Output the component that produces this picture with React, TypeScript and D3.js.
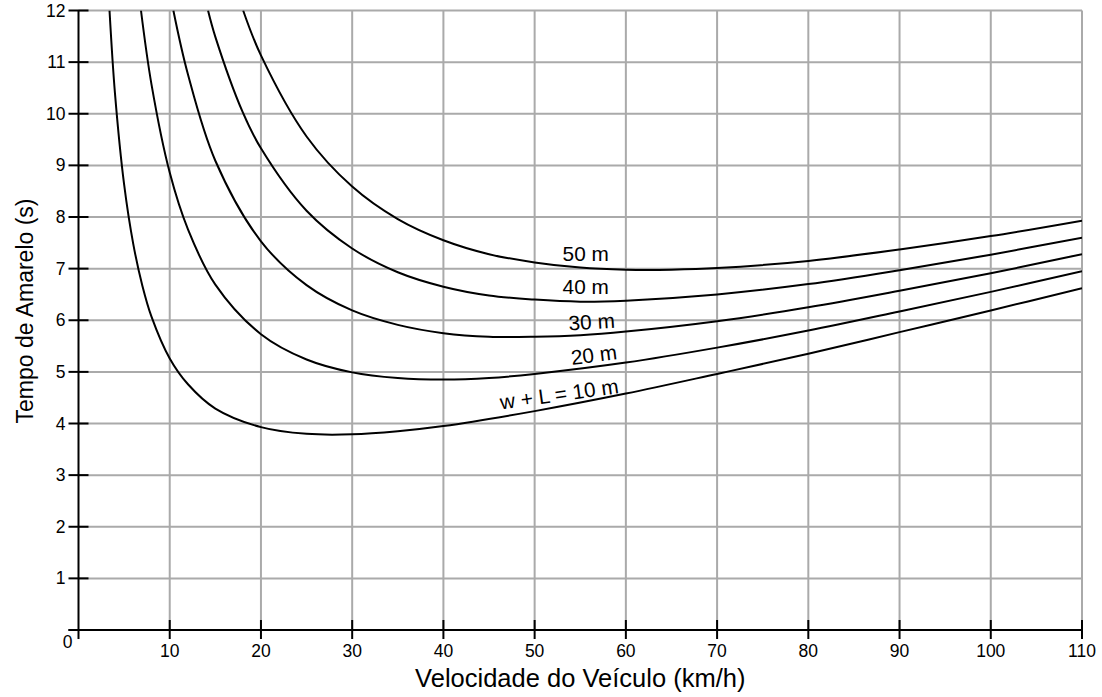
import React from "react";
import * as d3 from "d3";

// Speed (km/h) and yellow interval (s) for each clearance distance w + L
const speeds10 = [3.4, 4, 5, 6, 7, 8, 10, 12, 15, 20, 25, 30, 35, 40, 50, 60, 70, 80, 90, 100, 110];
const times10 = [12.0, 10.39, 8.63, 7.48, 6.67, 6.07, 5.26, 4.76, 4.29, 3.93, 3.8, 3.79, 3.85, 3.95, 4.24, 4.58, 4.96, 5.35, 5.77, 6.19, 6.62];

const speeds20 = [6.85, 8, 10, 12, 15, 20, 25, 30, 35, 40, 45, 50, 60, 70, 80, 90, 100, 110];
const times20 = [12.0, 10.57, 8.86, 7.76, 6.69, 5.73, 5.24, 4.99, 4.88, 4.85, 4.88, 4.96, 5.18, 5.47, 5.8, 6.17, 6.55, 6.95];

const speeds30 = [10.4, 12, 15, 20, 25, 30, 35, 40, 45, 50, 55, 60, 70, 80, 90, 100, 110];
const times30 = [12.0, 10.76, 9.09, 7.53, 6.68, 6.19, 5.91, 5.75, 5.68, 5.68, 5.71, 5.78, 5.98, 6.25, 6.57, 6.91, 7.28];

const speeds40 = [14.2, 15, 18, 20, 25, 30, 35, 40, 45, 50, 55, 60, 70, 80, 90, 100, 110];
const times40 = [12.0, 11.49, 10.03, 9.33, 8.12, 7.39, 6.93, 6.65, 6.48, 6.4, 6.36, 6.38, 6.5, 6.7, 6.97, 7.27, 7.6];

const speeds50 = [18.05, 20, 25, 30, 35, 40, 45, 50, 55, 60, 65, 70, 80, 90, 100, 110];
const times50 = [12.0, 11.13, 9.56, 8.59, 7.96, 7.55, 7.28, 7.12, 7.02, 6.98, 6.98, 7.01, 7.15, 7.37, 7.63, 7.93];

const xTicks = [10, 20, 30, 40, 50, 60, 70, 80, 90, 100, 110];
const yTicks = [1, 2, 3, 4, 5, 6, 7, 8, 9, 10, 11, 12];

const curveLabels = ["w + L = 10 m", "20 m", "30 m", "40 m", "50 m"];

const W = 1102;
const H = 697;
const FONT = "'Liberation Sans', Arial, Helvetica, sans-serif";

export default function App() {
  const x = d3.scaleLinear().domain([0, 110]).range([78.5, 1082]);
  const y = d3.scaleLinear().domain([0, 12]).range([630, 10.5]);

  const series = [
    { sp: speeds10, tm: times10 },
    { sp: speeds20, tm: times20 },
    { sp: speeds30, tm: times30 },
    { sp: speeds40, tm: times40 },
    { sp: speeds50, tm: times50 },
  ];

  const line = d3
    .line<[number, number]>()
    .x((d) => x(d[0]))
    .y((d) => y(d[1]))
    .curve(d3.curveCatmullRom.alpha(0.5));

  // label anchor (data units) and rotation for each curve
  const labelPlacement = [
    { vx: 52.8, vy: 4.43, rot: -8 },
    { vx: 56.6, vy: 5.19, rot: -7 },
    { vx: 56.3, vy: 5.83, rot: -3.5 },
    { vx: 55.6, vy: 6.51, rot: 0 },
    { vx: 55.6, vy: 7.14, rot: 0 },
  ];

  const x0 = x(0);
  const y0 = y(0);

  return (
    <svg
      width={W}
      height={H}
      style={{ position: "absolute", left: 0, top: 0, background: "#fff" }}
      fontFamily={FONT}
    >
      <defs>
        <clipPath id="plot-clip">
          <rect x={x0} y={y(12)} width={x(110) - x0} height={y0 - y(12)} />
        </clipPath>
      </defs>

      {/* grid */}
      <g stroke="#aaaaaa" strokeWidth={2}>
        {xTicks.map((t) => (
          <line key={"gx" + t} x1={x(t)} x2={x(t)} y1={y(12)} y2={y0} />
        ))}
        {yTicks.map((t) => (
          <line key={"gy" + t} x1={x0} x2={x(110)} y1={y(t)} y2={y(t)} />
        ))}
      </g>

      {/* curves */}
      <g clipPath="url(#plot-clip)" fill="none" stroke="#000" strokeWidth={2}>
        {series.map((s, i) => (
          <path key={i} d={line(s.sp.map((v, j) => [v, s.tm[j]] as [number, number])) || ""} />
        ))}
      </g>

      {/* axes */}
      <g stroke="#000" strokeWidth={2}>
        <line x1={x0} x2={x0} y1={y(12)} y2={y0 + 9} />
        <line x1={x0 - 10} x2={x(110)} y1={y0} y2={y0} />
        {[0, ...yTicks].map((t) => (
          <line key={"ty" + t} x1={x0 - 10} x2={x0 + 10} y1={y(t)} y2={y(t)} />
        ))}
        {xTicks.map((t) => (
          <line key={"tx" + t} x1={x(t)} x2={x(t)} y1={y0 - 10} y2={y0 + 9} />
        ))}
      </g>

      {/* tick labels */}
      <g fontSize={17.5} fill="#000">
        {yTicks.map((t) => (
          <text key={"ly" + t} x={x0 - 13} y={y(t)} textAnchor="end" dominantBaseline="central">
            {t}
          </text>
        ))}
        <text x={x0 - 11} y={y0 + 12} textAnchor="middle" dominantBaseline="central">
          0
        </text>
        {xTicks.map((t) => (
          <text key={"lx" + t} x={x(t)} y={y0 + 27} textAnchor="middle">
            {t}
          </text>
        ))}
      </g>

      {/* curve labels */}
      <g fontSize={20.8} fill="#000">
        {curveLabels.map((lab, i) => {
          const p = labelPlacement[i];
          const px = x(p.vx);
          const py = y(p.vy);
          return (
            <text
              key={lab}
              x={px}
              y={py}
              textAnchor="middle"
              transform={`rotate(${p.rot} ${px} ${py})`}
            >
              {lab}
            </text>
          );
        })}
      </g>

      {/* axis titles */}
      <text x={(x0 + x(110)) / 2} y={687} textAnchor="middle" fontSize={25.5} fill="#000">
        Velocidade do Veículo (km/h)
      </text>
      <text
        transform={`translate(33, 311) rotate(-90)`}
        textAnchor="middle"
        fontSize={23}
        fill="#000"
      >
        Tempo de Amarelo (s)
      </text>
    </svg>
  );
}
